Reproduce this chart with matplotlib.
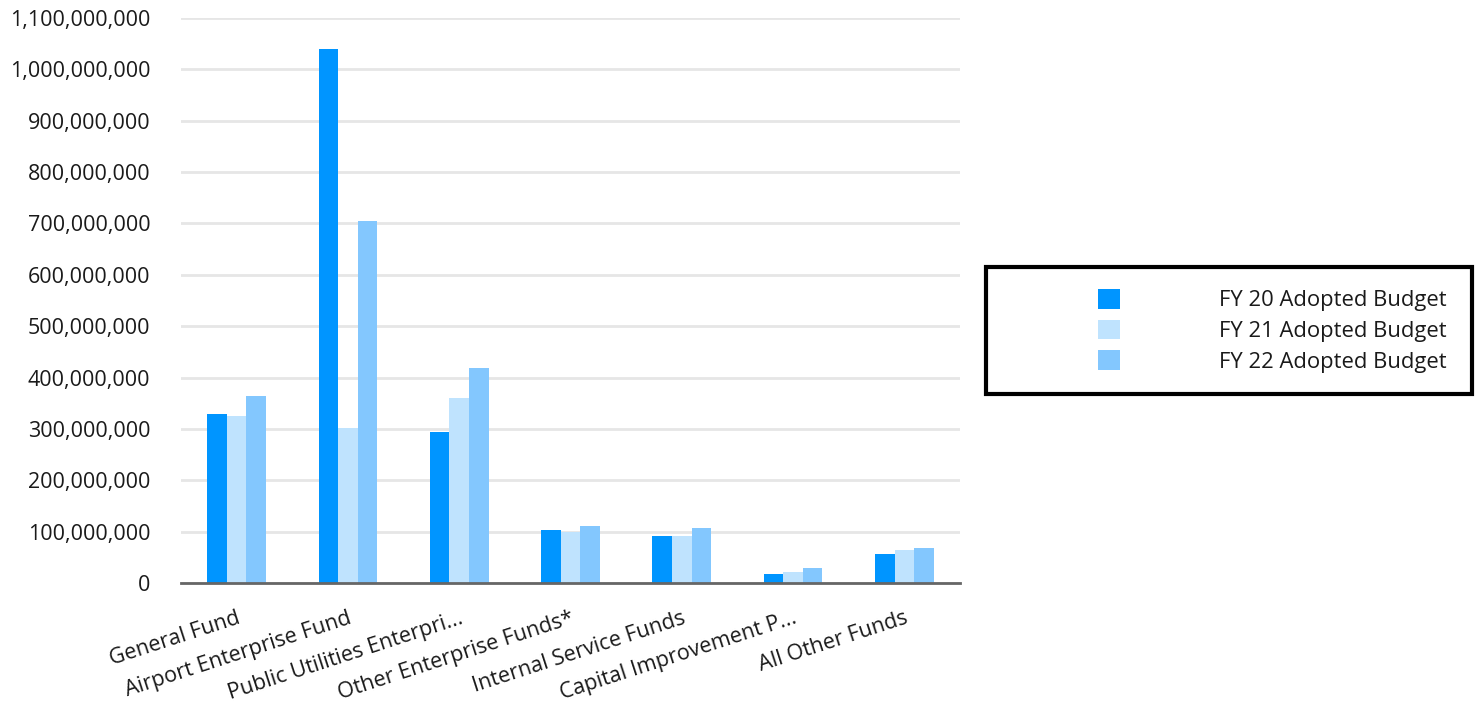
import numpy as np
import matplotlib.pyplot as plt
from matplotlib.patches import Rectangle
from matplotlib.ticker import FuncFormatter

# fund categories and adopted budgets
funds = ['General Fund', 'Airport Enterprise Fund', 'Public Utilities Enterpri...',
         'Other Enterprise Funds*', 'Internal Service Funds', 'Capital Improvement P...',
         'All Other Funds']
fy20 = [329e6, 1040e6, 294e6, 103e6, 92e6, 17.5e6, 56e6]
fy21 = [325e6, 302e6, 360e6, 99e6, 92e6, 21e6, 64e6]
fy22 = [364e6, 705e6, 419e6, 111e6, 107e6, 29e6, 68e6]
series_names = ['FY 20 Adopted Budget', 'FY 21 Adopted Budget', 'FY 22 Adopted Budget']
colors = ['#0095ff', '#bfe3fe', '#83c7fe']

plt.rcParams['font.family'] = ['Open Sans', 'DejaVu Sans']
FS = 15.5

W, H = 1478, 708
fig = plt.figure(figsize=(W / 100, H / 100), dpi=100)
ax = fig.add_axes([181 / W, 1 - 583 / H, (960 - 181) / W, (583 - 18) / H])

x = np.arange(len(funds))
bw = 0.176
for i, (vals, name, c) in enumerate(zip([fy20, fy21, fy22], series_names, colors)):
    ax.bar(x + (i - 1) * bw, vals, width=bw, color=c, label=name, zorder=3)

ax.set_xlim(-0.5, len(funds) - 0.5)
ax.set_ylim(0, 1.1e9)
ax.set_yticks(np.arange(0, 1.1e9 + 1, 1e8))
ax.yaxis.set_major_formatter(FuncFormatter(lambda v, p: f'{v:,.0f}'))
ax.grid(axis='y', color='#e6e6e6', linewidth=2, zorder=0)
ax.tick_params(axis='y', length=0, pad=22, labelsize=FS, labelcolor='#1a1a1a')
ax.tick_params(axis='x', length=0, pad=18, labelsize=FS, labelcolor='#1a1a1a')

ax.set_xticks(x)
ax.set_xticklabels(funds, rotation=18, ha='right', rotation_mode='anchor')

for s in ['left', 'right', 'top']:
    ax.spines[s].set_visible(False)
ax.spines['bottom'].set_color('#666666')
ax.spines['bottom'].set_linewidth(2)
ax.spines['bottom'].set_zorder(4)

# legend box drawn separately so it can be wider than its content
fig.patches.append(Rectangle((986 / W, 1 - 394 / H), (1472 - 986) / W, (394 - 267) / H,
                             transform=fig.transFigure, fill=False,
                             edgecolor='black', linewidth=3))
leg = fig.legend(loc='upper left', bbox_to_anchor=(1098 / W, 1 - 289 / H),
                 frameon=False, fontsize=15.8, handlelength=1.0, handleheight=1.0,
                 handletextpad=4.5, labelspacing=0.38, borderpad=0, borderaxespad=0)
for t in leg.get_texts():
    t.set_color('#1a1a1a')

fig.savefig('out.png', dpi=100)
